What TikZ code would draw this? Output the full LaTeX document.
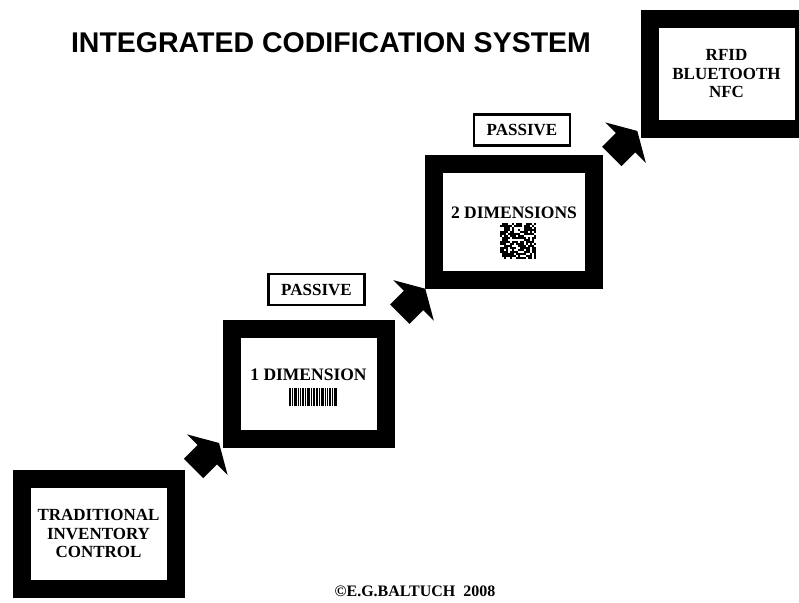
\documentclass[tikz,border=0pt]{standalone}
\usepackage{fontspec}
\setmainfont{Liberation Serif}
\newfontfamily\headfont{Liberation Sans}
\usetikzlibrary{
  calc,
  shapes.arrows,
}
\tikzset{
  stage/.style={draw=black,line width=18pt,rectangle,minimum width=154pt,minimum height=110pt,inner sep=0pt,align=center,font=\bfseries\fontsize{17}{18.5}\selectfont},
  dimtext/.style={inner sep=0pt,font=\bfseries\fontsize{17.5}{18}\selectfont},
  passive/.style={draw=black,line width=2.5pt,rectangle,minimum width=96pt,minimum height=31pt,inner sep=0pt,font=\bfseries\fontsize{17}{18}\selectfont},
  leap/.style={single arrow,fill=black,draw=none,rotate=45,minimum height=36pt,inner xsep=0pt,inner ysep=13.5pt,single arrow head extend=15pt,single arrow tip angle=120},
}

\begin{document}
\begin{tikzpicture}[x=1pt,y=-1pt]
  \useasboundingbox (0,0) rectangle (799,602);
  \clip (0,0) rectangle (799,602);

  \node[font=\headfont\bfseries\fontsize{28.5}{30}\selectfont] (title) at (331,43) {INTEGRATED CODIFICATION SYSTEM};

  % the four stages
  \node[stage] (s1) at (98.5,533.5) {TRADITIONAL\\INVENTORY\\CONTROL};
  \node[stage] (s2) at (308.5,383.5) {};
  \node[stage,minimum width=160pt,minimum height=116pt] (s3) at (514,222) {};
  \node[stage] (s4) at (726.5,74) {RFID\\BLUETOOTH\\NFC};

  \node[dimtext] (d1) at ($(s2.center)+(0,-8.5)$) {1 DIMENSION};
  \node[dimtext] (d2) at ($(s3.center)+(0,-9)$) {2 DIMENSIONS};

  % barcode
  \coordinate (bc) at (289,388);
  \foreach \bx/\bw in {0/2,3/1,5/2.5,9/1,11/1,13/2,16/1,18/3,22/1,24/1.5,27/2,30/1,32/2.5,36/1,38/1,40/2,43/1,45/3}
    \fill ($(bc)+(\bx,0)$) rectangle ++(\bw,18);

  % 2d code
  \coordinate (qr) at (500,223);
  \pgfmathsetseed{42}
  \foreach \i in {0,...,17}
    \foreach \j in {0,...,17} {
      \pgfmathrandominteger{\qbit}{0}{2}
      \ifnum\qbit>0 \fill ($(qr)+(2*\i,2*\j)$) rectangle ++(2,2); \fi
    }

  \node[passive] (p1) at (316.5,289.5) {PASSIVE};
  \node[passive] (p2) at (522,130) {PASSIVE};

  % arrows between stages
  \node[leap] (a1) at ($(s1.north east)!0.5!(s2.south west)$) {};
  \node[leap] (a2) at ($(s2.north east)!0.5!(s3.south west)$) {};
  \node[leap] (a3) at ($(s3.north east)!0.5!(s4.south west)$) {};

  \node[font=\bfseries\fontsize{16}{17}\selectfont] (credit) at (415,591) {\textcopyright E.G.BALTUCH\ \ 2008};
\end{tikzpicture}
\end{document}
